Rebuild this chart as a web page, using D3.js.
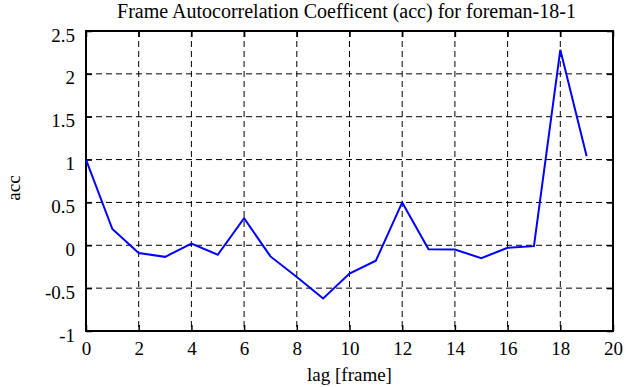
<!DOCTYPE html>
<html>
<head>
<meta charset="utf-8">
<script src="https://cdn.jsdelivr.net/npm/d3@7"></script>
<style>
  body { margin: 0; background: #fff; }
  svg { display: block; font-family: "Liberation Serif", "DejaVu Serif", serif; }
</style>
</head>
<body>
<div id="chart"></div>
<script>
var lags = [0, 1, 2, 3, 4, 5, 6, 7, 8, 9, 10, 11, 12, 13, 14, 15, 16, 17, 18, 19];
var acc = [1.0, 0.19, -0.09, -0.135, 0.02, -0.11, 0.315, -0.13, -0.37, -0.62,
           -0.33, -0.18, 0.5, -0.047, -0.05, -0.15, -0.03, -0.01, 2.28, 1.04];
var xTicks = [0, 2, 4, 6, 8, 10, 12, 14, 16, 18, 20];
var yTicks = [-1, -0.5, 0, 0.5, 1, 1.5, 2, 2.5];

var margin = { top: 31, right: 22, bottom: 56, left: 86 },
    width = 635 - margin.left - margin.right,
    height = 387 - margin.top - margin.bottom;

var svg = d3.select("#chart")
    .append("svg")
    .attr("width", 635)
    .attr("height", 387)
    .append("g")
    .attr("transform", "translate(" + margin.left + "," + margin.top + ")");

var x = d3.scaleLinear().domain([0, 20]).range([0, width]);
var y = d3.scaleLinear().domain([-1, 2.5]).range([height, 0]);

// grid
svg.append("g")
    .selectAll("line")
    .data(xTicks.slice(1, -1))
    .enter().append("line")
    .attr("x1", function (d) { return x(d); })
    .attr("x2", function (d) { return x(d); })
    .attr("y1", 0).attr("y2", height)
    .attr("stroke", "#000").attr("stroke-width", 1)
    .attr("stroke-dasharray", "6,4");

svg.append("g")
    .selectAll("line")
    .data(yTicks.slice(1, -1))
    .enter().append("line")
    .attr("y1", function (d) { return y(d); })
    .attr("y2", function (d) { return y(d); })
    .attr("x1", 0).attr("x2", width)
    .attr("stroke", "#000").attr("stroke-width", 1)
    .attr("stroke-dasharray", "6,4");

// axes with inward ticks
function styleAxis(g) {
    g.select(".domain").remove();
    g.selectAll(".tick line").attr("stroke", "#000").attr("stroke-width", 1.5);
    g.selectAll("text").attr("fill", "#000").style("font-size", "19px")
        .style("font-family", "Liberation Serif, serif");
}

svg.append("g")
    .attr("transform", "translate(0," + height + ")")
    .call(d3.axisBottom(x).tickValues(xTicks).tickSizeInner(-6).tickPadding(11).tickFormat(d3.format("d")))
    .call(styleAxis);

svg.append("g")
    .call(d3.axisTop(x).tickValues(xTicks).tickSizeInner(-6).tickFormat(""))
    .call(styleAxis);

svg.append("g")
    .call(d3.axisLeft(y).tickValues(yTicks).tickSizeInner(-6).tickPadding(11).tickFormat(function (d) { return String(d); }))
    .call(styleAxis)
    .selectAll("text").attr("y", 4);

svg.append("g")
    .attr("transform", "translate(" + width + ",0)")
    .call(d3.axisRight(y).tickValues(yTicks).tickSizeInner(-6).tickFormat(""))
    .call(styleAxis);

// frame
svg.append("rect")
    .attr("x", 0).attr("y", 0)
    .attr("width", width).attr("height", height)
    .attr("fill", "none").attr("stroke", "#000").attr("stroke-width", 2);

// data line
var line = d3.line()
    .x(function (d, i) { return x(lags[i]); })
    .y(function (d) { return y(d); });

svg.append("path")
    .datum(acc)
    .attr("fill", "none")
    .attr("stroke", "#0000ff")
    .attr("stroke-width", 2)
    .attr("d", line);

// labels
svg.append("text")
    .attr("x", width / 2 - 3)
    .attr("y", -13)
    .attr("text-anchor", "middle")
    .style("font-size", "20px")
    .text("Frame Autocorrelation Coefficent (acc) for foreman-18-1");

svg.append("text")
    .attr("x", width / 2)
    .attr("y", height + 50)
    .attr("text-anchor", "middle")
    .style("font-size", "19px")
    .text("lag [frame]");

svg.append("text")
    .attr("transform", "translate(-66," + (height / 2 + 7) + ") rotate(-90)")
    .attr("text-anchor", "middle")
    .style("font-size", "19px")
    .text("acc");
</script>
</body>
</html>
